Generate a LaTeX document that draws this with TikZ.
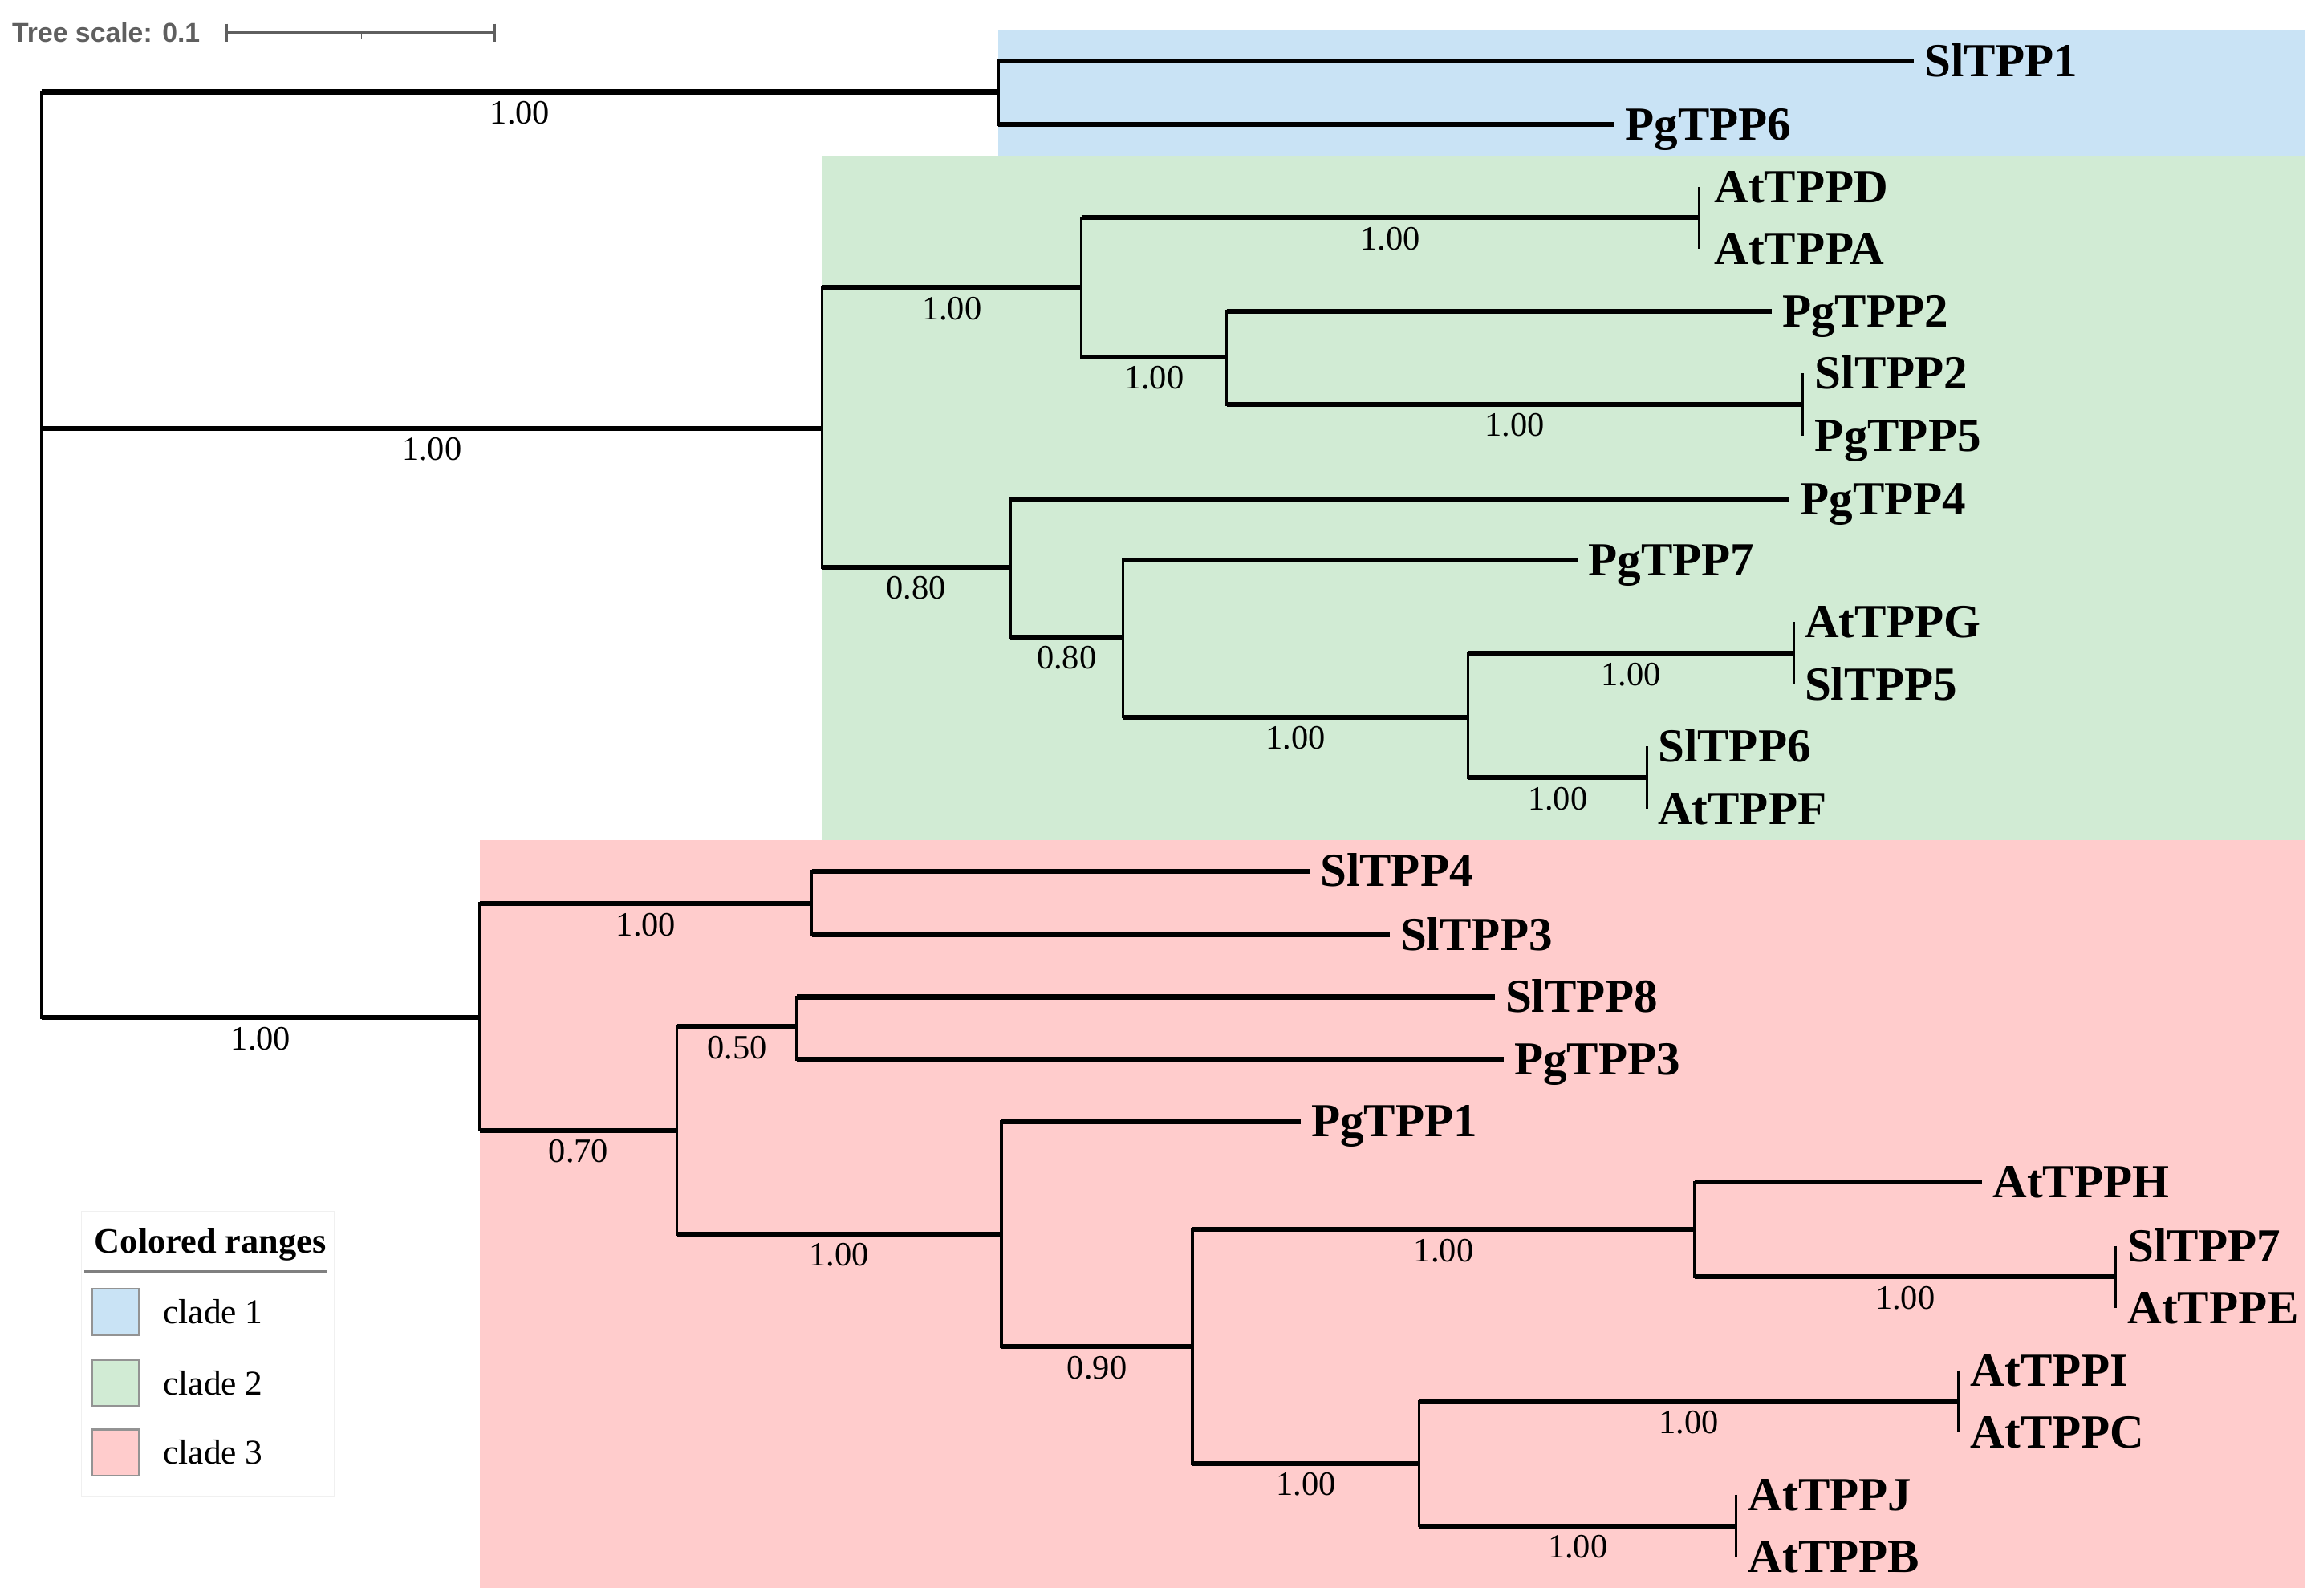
\documentclass[tikz,border=0pt]{standalone}
\usepackage{fontspec}
\setmainfont{Liberation Serif}
\newfontfamily\scalesans{Liberation Sans}
\definecolor{cladeA}{RGB}{201,227,245}
\definecolor{cladeB}{RGB}{209,235,212}
\definecolor{cladeC}{RGB}{255,204,204}
\definecolor{scalegray}{RGB}{95,95,95}
\begin{document}
\begin{tikzpicture}[x=1pt,y=-1pt,
  hb/.style={line width=3.3pt},
  vb/.style={line width=1.9pt, line cap=rect},
  pairv/.style={line width=1.6pt},
  leaf/.style={font=\fontsize{32}{32}\selectfont\bfseries, anchor=west, inner xsep=7pt, inner ysep=0pt, text height=21pt, text depth=0pt},
  sup/.style={font=\fontsize{23}{23}\selectfont, anchor=base, inner sep=0pt, yshift=-21.6pt},
  swatch/.style={draw=gray!85, line width=1.2pt},
  legtext/.style={font=\fontsize{23.5}{23.5}\selectfont, anchor=west, inner sep=0pt, text height=15pt, text depth=0pt}]
\useasboundingbox (0,0) rectangle (1560,1077);
% colored ranges
\fill[cladeA] (674,20) rectangle (1556,105);
\fill[cladeB] (555,105) rectangle (1556,567);
\fill[cladeC] (324,567) rectangle (1556,1072);
% scale bar
\node[font=\scalesans\bfseries\fontsize{18.3}{18.3}\selectfont, text=scalegray, anchor=west, inner sep=0pt] (scaletext) at (8,22) {Tree scale: 0.1};
\coordinate (sbL) at (153,22);
\coordinate (sbR) at (334,22);
\coordinate (sbM) at (244,22);
\draw[scalegray, line width=1.4pt] (sbL) -- (sbR);
\draw[scalegray, line width=1.4pt] ([yshift=6pt]sbL) -- ([yshift=-6pt]sbL);
\draw[scalegray, line width=1.4pt] ([yshift=6pt]sbR) -- ([yshift=-6pt]sbR);
\draw[scalegray, line width=1.0pt] (sbM) -- ([yshift=-4pt]sbM);
% internal nodes
\coordinate (root) at (28,62);
\coordinate (c1) at (674,62);
\coordinate (c2) at (555,289);
\coordinate (c3) at (324,687);
\coordinate (nA) at (730,194);
\coordinate (nB) at (682,383);
\coordinate (nAD) at (1147,147);
\coordinate (nC) at (828,241);
\coordinate (nSP) at (1217,273);
\coordinate (nD) at (758,430);
\coordinate (nE) at (991,484);
\coordinate (nGS) at (1211,441);
\coordinate (nSF) at (1112,525);
\coordinate (nF) at (548,610);
\coordinate (nG) at (457,763);
\coordinate (nH) at (538,693);
\coordinate (nI) at (676,833);
\coordinate (nJ) at (805,909);
\coordinate (nK) at (1144,830);
\coordinate (nL) at (958,988);
\coordinate (nSE) at (1428,862);
\coordinate (nIC) at (1322,946);
\coordinate (nJB) at (1172,1030);
% leaves
\node[leaf] (SlTPP1) at (1292,41) {SlTPP1};
\node[leaf] (PgTPP6) at (1090,84) {PgTPP6};
\node[leaf] (AtTPPD) at (1150,126) {AtTPPD};
\node[leaf] (AtTPPA) at (1150,168) {AtTPPA};
\node[leaf] (PgTPP2) at (1196,210) {PgTPP2};
\node[leaf] (SlTPP2) at (1218,252) {SlTPP2};
\node[leaf] (PgTPP5) at (1218,294) {PgTPP5};
\node[leaf] (PgTPP4) at (1208,337) {PgTPP4};
\node[leaf] (PgTPP7) at (1065,378) {PgTPP7};
\node[leaf] (AtTPPG) at (1211,420) {AtTPPG};
\node[leaf] (SlTPP5) at (1211,462) {SlTPP5};
\node[leaf] (SlTPP6) at (1112,504) {SlTPP6};
\node[leaf] (AtTPPF) at (1112,546) {AtTPPF};
\node[leaf] (SlTPP4) at (884,588) {SlTPP4};
\node[leaf] (SlTPP3) at (938,631) {SlTPP3};
\node[leaf] (SlTPP8) at (1009,673) {SlTPP8};
\node[leaf] (PgTPP3) at (1015,715) {PgTPP3};
\node[leaf] (PgTPP1) at (878,757) {PgTPP1};
\node[leaf] (AtTPPH) at (1338,798) {AtTPPH};
\node[leaf] (SlTPP7) at (1429,841) {SlTPP7};
\node[leaf] (AtTPPE) at (1429,883) {AtTPPE};
\node[leaf] (AtTPPI) at (1323,925) {AtTPPI};
\node[leaf] (AtTPPC) at (1323,967) {AtTPPC};
\node[leaf] (AtTPPJ) at (1173,1009) {AtTPPJ};
\node[leaf] (AtTPPB) at (1173,1051) {AtTPPB};
% vertical lines
\draw[vb] (root) -- (root |- c3);
\draw[vb] (c1 |- SlTPP1.west) -- (c1 |- PgTPP6.west);
\draw[vb] (c2 |- nA) -- (c2 |- nB);
\draw[vb] (c3 |- nF) -- (c3 |- nG);
\draw[vb] (nA |- nAD) -- (nA |- nC);
\draw[pairv] (nAD |- AtTPPD.west) -- (nAD |- AtTPPA.west);
\draw[vb] (nC |- PgTPP2.west) -- (nC |- nSP);
\draw[pairv] (nSP |- SlTPP2.west) -- (nSP |- PgTPP5.west);
\draw[vb] (nB |- PgTPP4.west) -- (nB |- nD);
\draw[vb] (nD |- PgTPP7.west) -- (nD |- nE);
\draw[vb] (nE |- nGS) -- (nE |- nSF);
\draw[pairv] (nGS |- AtTPPG.west) -- (nGS |- SlTPP5.west);
\draw[pairv] (nSF |- SlTPP6.west) -- (nSF |- AtTPPF.west);
\draw[vb] (nF |- SlTPP4.west) -- (nF |- SlTPP3.west);
\draw[vb] (nG |- nH) -- (nG |- nI);
\draw[vb] (nH |- SlTPP8.west) -- (nH |- PgTPP3.west);
\draw[vb] (nI |- PgTPP1.west) -- (nI |- nJ);
\draw[vb] (nJ |- nK) -- (nJ |- nL);
\draw[vb] (nK |- AtTPPH.west) -- (nK |- nSE);
\draw[pairv] (nSE |- SlTPP7.west) -- (nSE |- AtTPPE.west);
\draw[vb] (nL |- nIC) -- (nL |- nJB);
\draw[pairv] (nIC |- AtTPPI.west) -- (nIC |- AtTPPC.west);
\draw[pairv] (nJB |- AtTPPJ.west) -- (nJB |- AtTPPB.west);
% horizontal branches with support values
\draw[hb] (root |- c1) -- node[sup]{1.00} (c1);
\draw[hb] (root |- c2) -- node[sup]{1.00} (c2);
\draw[hb] (root |- c3) -- node[sup]{1.00} (c3);
\draw[hb] (c1 |- SlTPP1.west) -- (SlTPP1.west);
\draw[hb] (c1 |- PgTPP6.west) -- (PgTPP6.west);
\draw[hb] (c2 |- nA) -- node[sup]{1.00} (nA);
\draw[hb] (c2 |- nB) -- node[sup]{0.80} (nB);
\draw[hb] (nA |- nAD) -- node[sup]{1.00} (nAD);
\draw[hb] (nA |- nC) -- node[sup]{1.00} (nC);
\draw[hb] (nC |- PgTPP2.west) -- (PgTPP2.west);
\draw[hb] (nC |- nSP) -- node[sup]{1.00} (nSP);
\draw[hb] (nB |- PgTPP4.west) -- (PgTPP4.west);
\draw[hb] (nB |- nD) -- node[sup]{0.80} (nD);
\draw[hb] (nD |- PgTPP7.west) -- (PgTPP7.west);
\draw[hb] (nD |- nE) -- node[sup]{1.00} (nE);
\draw[hb] (nE |- nGS) -- node[sup]{1.00} (nGS);
\draw[hb] (nE |- nSF) -- node[sup]{1.00} (nSF);
\draw[hb] (c3 |- nF) -- node[sup]{1.00} (nF);
\draw[hb] (c3 |- nG) -- node[sup]{0.70} (nG);
\draw[hb] (nF |- SlTPP4.west) -- (SlTPP4.west);
\draw[hb] (nF |- SlTPP3.west) -- (SlTPP3.west);
\draw[hb] (nG |- nH) -- node[sup]{0.50} (nH);
\draw[hb] (nG |- nI) -- node[sup]{1.00} (nI);
\draw[hb] (nH |- SlTPP8.west) -- (SlTPP8.west);
\draw[hb] (nH |- PgTPP3.west) -- (PgTPP3.west);
\draw[hb] (nI |- PgTPP1.west) -- (PgTPP1.west);
\draw[hb] (nI |- nJ) -- node[sup]{0.90} (nJ);
\draw[hb] (nJ |- nK) -- node[sup]{1.00} (nK);
\draw[hb] (nJ |- nL) -- node[sup]{1.00} (nL);
\draw[hb] (nK |- AtTPPH.west) -- (AtTPPH.west);
\draw[hb] (nK |- nSE) -- node[sup]{1.00} (nSE);
\draw[hb] (nL |- nIC) -- node[sup]{1.00} (nIC);
\draw[hb] (nL |- nJB) -- node[sup]{1.00} (nJB);
% legend
\draw[draw=black!6, fill=white, line width=1pt] (55,818) rectangle (226,1010);
\node[font=\fontsize{24}{24}\selectfont\bfseries, inner sep=0pt, text height=16pt, text depth=0pt] (legtitle) at (142,838) {Colored ranges};
\draw[gray, line width=1.6pt] (57,858) -- (221,858);
\draw[swatch, fill=cladeA] (62,870) rectangle (94,901);
\draw[swatch, fill=cladeB] (62,918) rectangle (94,949);
\draw[swatch, fill=cladeC] (62,965) rectangle (94,996);
\node[legtext] (leg1) at (110,886) {clade 1};
\node[legtext] (leg2) at (110,934) {clade 2};
\node[legtext] (leg3) at (110,981) {clade 3};
\end{tikzpicture}
\end{document}
